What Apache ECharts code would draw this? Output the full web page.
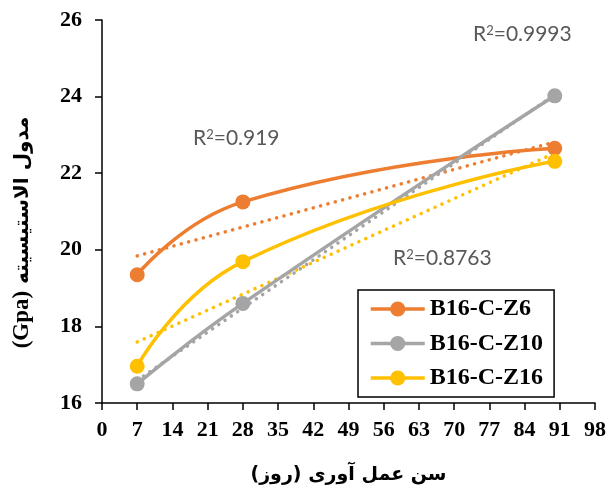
<!DOCTYPE html>
<html>
<head>
<meta charset="utf-8">
<script src="https://cdn.jsdelivr.net/npm/echarts@6/dist/echarts.min.js"></script>
<style>
  html, body { margin: 0; padding: 0; background: #fff; }
  #chart { width: 609px; height: 490px; }
</style>
</head>
<body>
<div id="chart"></div>
<script>
// Curing age (days) and elastic modulus (GPa) for each mix
const ages = [7, 28, 90];
const seriesNames = ['B16-C-Z6', 'B16-C-Z10', 'B16-C-Z16'];
const z6Values = [19.35, 21.25, 22.65];
const z10Values = [16.5, 18.6, 24.02];
const z16Values = [16.96, 19.69, 22.31];
const colors = ['#ED7D31', '#A5A5A5', '#FFC000'];
const r2Labels = ['0.919', '0.9993', '0.8763'];

const xTicks = { min: 0, max: 98, interval: 7 };
const yTicks = { min: 16, max: 26, interval: 2 };

// Least-squares linear trendline across the measured ages
function trend(xs, ys) {
  const n = xs.length;
  const mx = xs.reduce((a, b) => a + b, 0) / n;
  const my = ys.reduce((a, b) => a + b, 0) / n;
  let sxy = 0, sxx = 0;
  for (let i = 0; i < n; i++) {
    sxy += (xs[i] - mx) * (ys[i] - my);
    sxx += (xs[i] - mx) * (xs[i] - mx);
  }
  const slope = sxy / sxx;
  const x0 = Math.min(...xs), x1 = Math.max(...xs);
  return [[x0, my + slope * (x0 - mx)], [x1, my + slope * (x1 - mx)]];
}

const allValues = [z6Values, z10Values, z16Values];
const serif = '"Liberation Serif", "Times New Roman", serif';
const arabic = '"DejaVu Sans", sans-serif';
const sans = 'Lato, "Open Sans", sans-serif';

const series = [];
// dotted trendlines first so the curves sit on top
allValues.forEach((vals, i) => {
  series.push({
    type: 'line',
    name: seriesNames[i] + ' trend',
    data: trend(ages, vals),
    symbol: 'none',
    silent: true,
    z: 2,
    lineStyle: { color: colors[i], width: 3.5, type: [0.1, 7.5], cap: 'round' }
  });
});
allValues.forEach((vals, i) => {
  series.push({
    type: 'line',
    name: seriesNames[i],
    data: ages.map((a, k) => [a, vals[k]]),
    smooth: 0.5,
    symbol: 'circle',
    symbolSize: 15,
    z: 3,
    itemStyle: { color: colors[i] },
    lineStyle: { color: colors[i], width: 3.5 }
  });
});

const r2Rich = {
  r: { fontFamily: sans, fontSize: 21, fill: '#595959' },
  s: { fontFamily: sans, fontSize: 13, fill: '#595959', verticalAlign: 'top' }
};
function r2Text(left, top, val) {
  return {
    type: 'text', left: left, top: top,
    style: {
      text: '{r|R}{s|2}{r|=' + val + '}',
      rich: r2Rich
    }
  };
}

// axis titles (trailing RLM keeps the closing bracket inside the right-to-left run)
const xName = 'سن عمل آوری (روز)\u200F';
const yName = '{b|(Gpa)}{a| مدول الاستیسیته}';
const nameRich = {
  a: { fontFamily: arabic, fontSize: 20, fontWeight: 'bold', color: '#000' },
  b: { fontFamily: serif, fontSize: 23, fontWeight: 'bold', color: '#000' }
};

const chart = echarts.init(document.getElementById('chart'), null, { renderer: 'canvas' });
chart.setOption({
  animation: false,
  backgroundColor: '#fff',
  grid: { left: 102, right: 14, top: 20, bottom: 85 },
  xAxis: {
    type: 'value',
    min: xTicks.min, max: xTicks.max, interval: xTicks.interval,
    name: xName,
    nameLocation: 'middle',
    nameGap: 63,
    nameTextStyle: { fontFamily: arabic, fontSize: 19, fontWeight: 'bold', color: '#000' },
    axisLine: { lineStyle: { color: '#000', width: 1.5 } },
    axisTick: { show: true, length: 7, lineStyle: { color: '#000', width: 1.5 } },
    axisLabel: { fontFamily: serif, fontWeight: 'bold', fontSize: 22, color: '#000', margin: 16 },
    splitLine: { show: false }
  },
  yAxis: {
    type: 'value',
    min: yTicks.min, max: yTicks.max, interval: yTicks.interval,
    name: yName,
    nameLocation: 'middle',
    nameRotate: 90,
    nameGap: 68,
    nameTextStyle: { rich: nameRich, padding: [0, 42, 0, 0] },
    axisLine: { show: true, lineStyle: { color: '#000', width: 1.5 } },
    axisTick: { show: true, length: 7, lineStyle: { color: '#000', width: 1.5 } },
    axisLabel: { fontFamily: serif, fontWeight: 'bold', fontSize: 22, color: '#000', margin: 20 },
    splitLine: { show: false }
  },
  legend: {
    data: seriesNames,
    orient: 'vertical',
    left: 358,
    top: 290,
    padding: [7, 11, 7, 11],
    itemWidth: 54,
    itemHeight: 19,
    itemGap: 10.5,
    lineStyle: { width: 3.5 },
    borderColor: '#000',
    borderWidth: 1.5,
    backgroundColor: '#fff',
    textStyle: { fontFamily: serif, fontWeight: 'bold', fontSize: 24, color: '#000' }
  },
  graphic: [
    r2Text(473, 24, r2Labels[1]),
    r2Text(193, 128, r2Labels[0]),
    r2Text(393, 248, r2Labels[2])
  ],
  series: series
});
</script>
</body>
</html>
